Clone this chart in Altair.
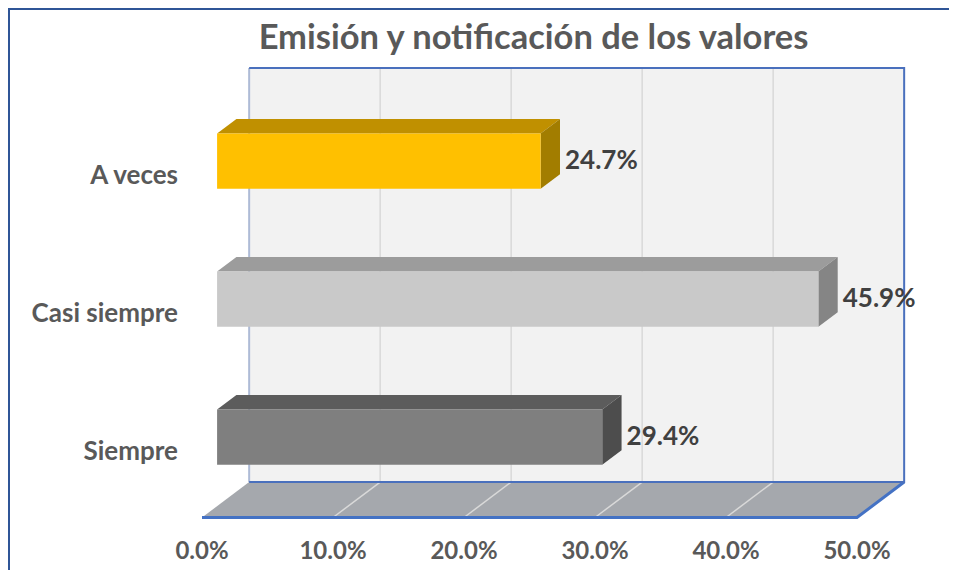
import altair as alt
import pandas as pd

# ---- data ----
categories = ["Siempre", "Casi siempre", "A veces"]
values = [29.4, 45.9, 24.7]
value_labels = ["29.4%", "45.9%", "24.7%"]
front_colors = ["#7f7f7f", "#c9c9c9", "#ffc000"]
top_colors = ["#5c5c5c", "#9c9c9c", "#c09000"]
side_colors = ["#4d4d4d", "#858585", "#a27d00"]
tick_values = [0, 10, 20, 30, 40, 50]
tick_labels = ["0.0%", "10.0%", "20.0%", "30.0%", "40.0%", "50.0%"]
title_text = "Emisión y notificación de los valores"

# ---- 3D projection style parameters ----
DX = 3.6      # depth shift along x (in % units)
DY = 0.257    # depth shift along y (in row units)
D0, D1 = 0.32, 0.73   # bar front / back depth
H = 0.2       # half bar height (rows)
YMIN, YMAX = -0.5, 2.5
XMAX = 50

LABEL_COL = "#595959"
FONT = "Lato"

xs = alt.Scale(domain=[0, XMAX], nice=False, zero=False)
ys = alt.Scale(domain=[YMIN, YMAX], nice=False, zero=False)


def X(f, **kw):
    return alt.X(f, scale=xs, axis=None, **kw)


def Y(f, **kw):
    return alt.Y(f, scale=ys, axis=None, **kw)


# wall
wall = pd.DataFrame([{"x": DX, "x2": XMAX + DX, "y": YMIN + DY, "y2": YMAX + DY}])
wall_l = alt.Chart(wall).mark_rect(fill="#f2f2f2").encode(
    x=X("x:Q"), x2="x2:Q", y=Y("y:Q"), y2="y2:Q")

grid = pd.DataFrame({"x": [t + DX for t in tick_values[1:-1]],
                     "y": YMIN + DY, "y2": YMAX + DY})
grid_l = alt.Chart(grid).mark_rule(color="#d9d9d9", strokeWidth=1.5).encode(
    x=X("x:Q"), y=Y("y:Q"), y2="y2:Q")

# floor (parallelogram)
floor = pd.DataFrame([{"y": YMIN, "x": 0, "x2": XMAX},
                      {"y": YMIN + DY, "x": DX, "x2": XMAX + DX}])
floor_l = alt.Chart(floor).mark_area(orient="horizontal", fill="#a5a8ad", opacity=1).encode(
    y=Y("y:Q"), x=X("x:Q", stack=None), x2="x2:Q")

fg_rows = []
for t in tick_values[1:-1]:
    fg_rows.append({"t": t, "x": t, "y": YMIN})
    fg_rows.append({"t": t, "x": t + DX, "y": YMIN + DY})
fgrid_l = alt.Chart(pd.DataFrame(fg_rows)).mark_line(color="#d9d9d9", strokeWidth=1.5).encode(
    x=X("x:Q"), y=Y("y:Q"), detail="t:N")

# blue edges
edges = pd.DataFrame([
    {"e": "front", "o": 0, "x": 0, "y": YMIN}, {"e": "front", "o": 1, "x": XMAX, "y": YMIN},
    {"e": "front", "o": 2, "x": XMAX + DX, "y": YMIN + DY},
])
edges_l = alt.Chart(edges).mark_line(color="#4472c4", strokeWidth=3).encode(
    x=X("x:Q"), y=Y("y:Q"), order="o:Q", detail="e:N")

wedges = pd.DataFrame([
    {"e": "b", "o": 0, "x": DX, "y": YMIN + DY}, {"e": "b", "o": 1, "x": XMAX + DX, "y": YMIN + DY},
    {"e": "b", "o": 2, "x": XMAX + DX, "y": YMAX + DY}, {"e": "b", "o": 3, "x": DX, "y": YMAX + DY},
])
wedges_l = alt.Chart(wedges).mark_line(color="#4a70bd", strokeWidth=2).encode(
    x=X("x:Q"), y=Y("y:Q"), order="o:Q", detail="e:N")
leftwall = pd.DataFrame([{"x": DX, "y": YMIN + DY, "y2": YMAX + DY}])
leftwall_l = alt.Chart(leftwall).mark_rule(color="#aebbd6", strokeWidth=2).encode(
    x=X("x:Q"), y=Y("y:Q"), y2="y2:Q")

# bars
front_rows, top_rows, side_rows, lab_rows, cat_rows = [], [], [], [], []
for i, (c, v, lab) in enumerate(zip(categories, values, value_labels)):
    front_rows.append({"c": c, "x": D0 * DX, "x2": v + D0 * DX,
                       "y": i + D0 * DY - H, "y2": i + D0 * DY + H, "f": front_colors[i]})
    top_rows.append({"c": c, "y": i + H + D0 * DY, "x": D0 * DX, "x2": v + D0 * DX, "f": top_colors[i]})
    top_rows.append({"c": c, "y": i + H + D1 * DY, "x": D1 * DX, "x2": v + D1 * DX, "f": top_colors[i]})
    side_rows.append({"c": c, "x": v + D0 * DX, "y": i - H + D0 * DY, "y2": i + H + D0 * DY, "f": side_colors[i]})
    side_rows.append({"c": c, "x": v + D1 * DX, "y": i - H + D1 * DY, "y2": i + H + D1 * DY, "f": side_colors[i]})
    lab_rows.append({"x": v + D1 * DX, "y": i + D0 * DY, "t": lab})
    cat_rows.append({"x": 0, "y": i, "t": c})

top_l = alt.Chart(pd.DataFrame(top_rows)).mark_area(orient="horizontal", opacity=1).encode(
    y=Y("y:Q"), x=X("x:Q", stack=None), x2="x2:Q",
    fill=alt.Fill("f:N", scale=None), detail="c:N")
side_l = alt.Chart(pd.DataFrame(side_rows)).mark_area(orient="vertical", opacity=1).encode(
    x=X("x:Q"), y=Y("y:Q", stack=None), y2="y2:Q",
    fill=alt.Fill("f:N", scale=None), detail="c:N")
front_l = alt.Chart(pd.DataFrame(front_rows)).mark_rect().encode(
    x=X("x:Q"), x2="x2:Q", y=Y("y:Q"), y2="y2:Q",
    fill=alt.Fill("f:N", scale=None))

vlab_l = alt.Chart(pd.DataFrame(lab_rows)).mark_text(
    align="left", baseline="middle", dx=5, font=FONT, fontSize=26, fontWeight="bold", color="#404040").encode(
    x=X("x:Q"), y=Y("y:Q"), text="t:N")
cat_l = alt.Chart(pd.DataFrame(cat_rows)).mark_text(
    align="right", baseline="middle", dx=-24, dy=3, font=FONT, fontSize=26, fontWeight="bold", color=LABEL_COL).encode(
    x=X("x:Q"), y=Y("y:Q"), text="t:N")
tick_l = alt.Chart(pd.DataFrame({"x": tick_values, "y": YMIN, "t": tick_labels})).mark_text(
    align="center", baseline="middle", dy=34, font=FONT, fontSize=24, fontWeight="bold", color=LABEL_COL).encode(
    x=X("x:Q"), y=Y("y:Q"), text="t:N")

# chart title, placed above the back wall
title_l = alt.Chart(pd.DataFrame({"x": [XMAX / 2], "y": [YMAX + DY], "t": [title_text]})).mark_text(
    align="center", baseline="alphabetic", dx=4, dy=-19, font=FONT, fontSize=34.5, fontWeight="bold",
    color=LABEL_COL).encode(x=X("x:Q"), y=Y("y:Q"), text="t:N")

# outer chart frame (left and top edges visible in the reference)
frame_left = alt.Chart(pd.DataFrame({"a": [0]})).mark_rule(color="#2f5597", strokeWidth=2).encode(
    x=alt.value(-193), y=alt.value(-95), y2=alt.value(470))
frame_top = alt.Chart(pd.DataFrame({"a": [0]})).mark_rule(color="#2f5597", strokeWidth=2).encode(
    x=alt.value(-194), x2=alt.value(747), y=alt.value(-94.5))

chart = alt.layer(
    wall_l, grid_l, leftwall_l, floor_l, fgrid_l, edges_l, wedges_l,
    top_l, side_l, front_l, vlab_l, cat_l, tick_l, title_l, frame_left, frame_top
).properties(
    width=655, height=414,
    background="white",
    autosize=alt.AutoSizeParams(type="none"),
    padding={"left": 194, "top": 95.5, "right": 92, "bottom": 52},
).configure_view(strokeWidth=0)

chart.save("out.html", embed_options={"renderer": "svg", "actions": False})
